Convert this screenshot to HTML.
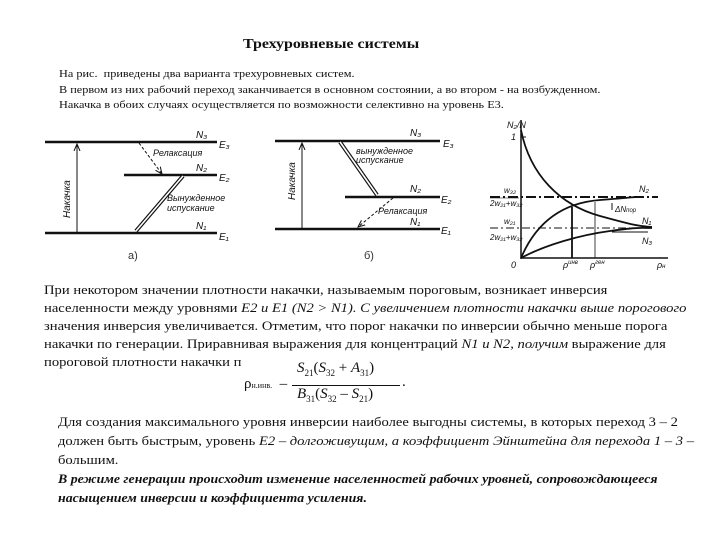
<!DOCTYPE html>
<html><head><meta charset="utf-8"><style>
body{margin:0;width:720px;height:540px;background:#fff;position:relative;overflow:hidden;font-family:"Liberation Serif",serif;color:#111}
.t{position:absolute;white-space:nowrap;transform-origin:0 0}
.s{font-size:10.3px;transform:scaleX(1.19)}
.m{font-size:12.6px;transform:scaleX(1.16)}
</style></head><body>
<div class="t" style="left:243px;top:37px;font-size:14px;font-weight:bold;transform:scaleX(1.14)">Трехуровневые системы</div>
<div class="t s" style="left:59px;top:69px">На рис.&nbsp; приведены два варианта трехуровневых систем.</div>
<div class="t s" style="left:59px;top:85px">В первом из них рабочий переход заканчивается в основном состоянии, а во втором - на возбужденном.</div>
<div class="t s" style="left:59px;top:100px">Накачка в обоих случаях осуществляется по возможности селективно на уровень E3.</div>

<svg style="position:absolute;left:0;top:0" width="720" height="540">
<defs><marker id="a" markerWidth="8" markerHeight="8" refX="7" refY="4" orient="auto"><path d="M0,1 L7,4 L0,7" fill="none" stroke="#111" stroke-width="1"/></marker></defs>
<g stroke="#111" fill="none">
<line x1="45" y1="142" x2="217" y2="142" stroke-width="2.5"/>
<line x1="124" y1="175" x2="217" y2="175" stroke-width="2.5"/>
<line x1="45" y1="233" x2="217" y2="233" stroke-width="2.5"/>
<line x1="77" y1="233" x2="77" y2="144" marker-end="url(#a)"/>
<line x1="139" y1="143" x2="162" y2="174" stroke-dasharray="3,2" marker-end="url(#a)"/>
<line x1="183" y1="176" x2="136" y2="231" stroke-width="4"/>
<line x1="183" y1="176" x2="136" y2="231" stroke="#fff" stroke-width="1.6"/>
<line x1="275" y1="141" x2="440" y2="141" stroke-width="2.5"/>
<line x1="345" y1="197" x2="440" y2="197" stroke-width="2.5"/>
<line x1="275" y1="229" x2="440" y2="229" stroke-width="2.5"/>
<line x1="302" y1="229" x2="302" y2="143" marker-end="url(#a)"/>
<line x1="340" y1="142" x2="377" y2="195" stroke-width="4"/>
<line x1="340" y1="142" x2="377" y2="195" stroke="#fff" stroke-width="1.6"/>
<line x1="393" y1="198" x2="358" y2="227" stroke-dasharray="3,2" marker-end="url(#a)"/>
<line x1="521" y1="120" x2="521" y2="259" stroke-width="1.5"/>
<line x1="521" y1="258" x2="668" y2="258" stroke-width="1.5"/>
<line x1="521" y1="137" x2="526" y2="137"/>
<line x1="490" y1="197" x2="658" y2="197" stroke-width="2" stroke-dasharray="10,3,2,3"/>
<line x1="490" y1="228" x2="652" y2="228" stroke-dasharray="8,3,2,3"/>
<path d="M521,130 C530,175 560,205 600,216 S640,226 652,227" stroke-width="1.8"/>
<path d="M521,258 C535,225 560,203 600,200 S630,197 640,197" stroke-width="1.8"/>
<path d="M521,258 C545,245 580,235 610,231 S640,228 652,228" stroke-width="1.8"/>
<line x1="572" y1="207" x2="572" y2="258" stroke-width="1.8"/>
<line x1="595" y1="202" x2="595" y2="258" stroke-width=".8"/>
<line x1="612" y1="203" x2="612" y2="210"/>
<line x1="612" y1="232" x2="648" y2="232"/>
</g>
<g font-family="Liberation Sans,sans-serif" font-style="italic" font-size="10" fill="#111">
<text x="196" y="138">N₃</text><text x="219" y="148">E₃</text>
<text x="196" y="171">N₂</text><text x="219" y="181">E₂</text>
<text x="196" y="229">N₁</text><text x="219" y="240">E₁</text>
<text x="153" y="156" font-size="9">Релаксация</text>
<text x="167" y="201" font-size="9">Вынужденное</text>
<text x="167" y="211" font-size="9">испускание</text>
<text transform="translate(70,218) rotate(-90)" font-size="10">Накачка</text>
<text x="410" y="136">N₃</text><text x="443" y="147">E₃</text>
<text x="410" y="192">N₂</text><text x="441" y="203">E₂</text>
<text x="410" y="225">N₁</text><text x="441" y="234">E₁</text>
<text x="356" y="154" font-size="9">вынужденное</text>
<text x="356" y="163" font-size="9">испускание</text>
<text x="378" y="214" font-size="9">Релаксация</text>
<text transform="translate(295,200) rotate(-90)" font-size="10">Накачка</text>
<text x="507" y="128" font-size="9">N₂/N</text><text x="511" y="140" font-size="9">1</text>
<text x="504" y="193" font-size="8">w₃₂</text>
<text x="490" y="206" font-size="8">2w₂₁+w₃₂</text>
<text x="504" y="224" font-size="8">w₂₁</text>
<text x="490" y="240" font-size="8">2w₂₁+w₃₂</text>
<line x1="490" y1="198" x2="519" y2="198" stroke="#111" stroke-width=".6"/>
<text x="639" y="192" font-size="9">N₂</text>
<text x="615" y="212" font-size="8">ΔN<tspan font-size="6">пор</tspan></text>
<text x="642" y="224" font-size="9">N₁</text>
<text x="642" y="244" font-size="9">N₃</text>
<text x="511" y="268" font-size="9">0</text>
<text x="563" y="268" font-size="9">ρ<tspan font-size="6" dy="-4">инв</tspan></text>
<text x="590" y="268" font-size="9">ρ<tspan font-size="6" dy="-4">ген</tspan></text>
<text x="657" y="268" font-size="9">ρ<tspan font-size="6">н</tspan></text>
</g>
<text x="128" y="259" font-family="Liberation Sans,sans-serif" font-size="11" fill="#333">а)</text>
<text x="364" y="259" font-family="Liberation Sans,sans-serif" font-size="11" fill="#333">б)</text>
</svg>

<div class="t m" style="left:44px;top:283px">При некотором значении плотности накачки, называемым пороговым, возникает инверсия</div>
<div class="t m" style="left:44px;top:301px">населенности между уровнями <i>E2 и E1 (N2 &gt; N1). С увеличением плотности накачки выше порогового</i></div>
<div class="t m" style="left:44px;top:319px">значения инверсия увеличивается. Отметим, что порог накачки по инверсии обычно меньше порога</div>
<div class="t m" style="left:44px;top:337px">накачки по генерации. Приравнивая выражения для концентраций <i>N1 и N2, получим</i> выражение для</div>
<div class="t m" style="left:44px;top:355px">пороговой плотности накачки п</div>
<div class="t" style="left:244px;top:376px;font-size:15px">ρ<span style="font-size:8px">н.инв.</span> &nbsp;–</div>
<div class="t" style="left:297px;top:360px;font-size:15px"><i>S</i><sub style="font-size:9px">21</sub>(<i>S</i><sub style="font-size:9px">32</sub> + <i>A</i><sub style="font-size:9px">31</sub>)</div>
<div style="position:absolute;left:292px;top:385px;width:108px;height:1px;background:#111"></div>
<div class="t" style="left:297px;top:386px;font-size:15px"><i>B</i><sub style="font-size:9px">31</sub>(<i>S</i><sub style="font-size:9px">32</sub> – <i>S</i><sub style="font-size:9px">21</sub>)</div>
<div class="t" style="left:402px;top:374px;font-size:15px">.</div>

<div class="t m" style="left:58px;top:415px">Для создания максимального уровня инверсии наиболее выгодны системы, в которых переход 3 – 2</div>
<div class="t m" style="left:58px;top:434px">должен быть быстрым, уровень <i>E2 – долгоживущим, а коэффициент Эйнштейна для перехода 1 – 3 –</i></div>
<div class="t m" style="left:58px;top:453px">большим.</div>
<div class="t m" style="left:58px;top:472px;font-weight:bold;font-style:italic;transform:scaleX(1.1)">В режиме генерации происходит изменение населенностей рабочих уровней, сопровождающееся</div>
<div class="t m" style="left:58px;top:491px;font-weight:bold;font-style:italic;transform:scaleX(1.1)">насыщением инверсии и коэффициента усиления.</div>
</body></html>
